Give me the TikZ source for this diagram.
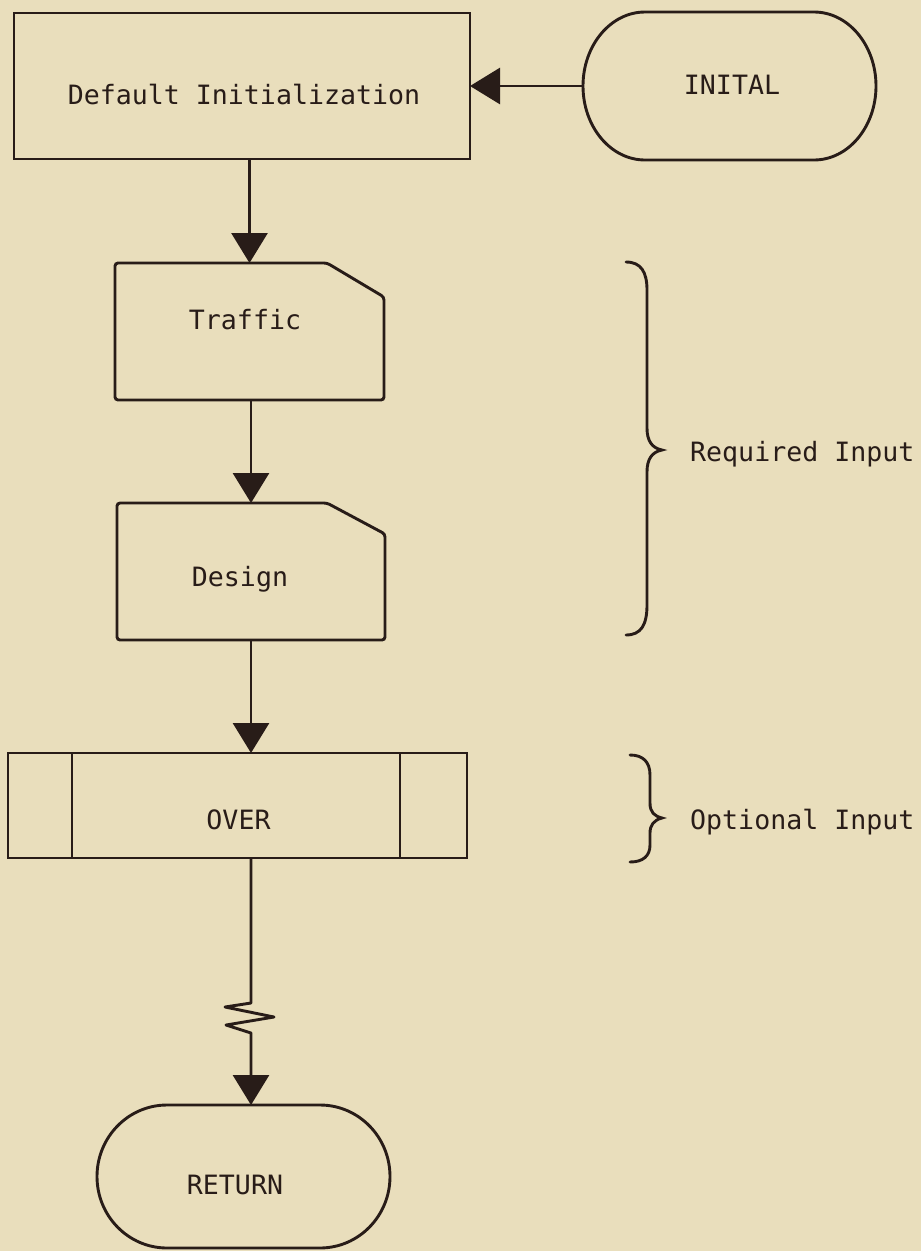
\documentclass[tikz,border=0pt]{standalone}
\usepackage{fontspec}
\setmonofont{DejaVu Sans Mono}
\usetikzlibrary{arrows.meta}
\definecolor{paper}{RGB}{233,222,188}
\definecolor{ink}{RGB}{40,28,24}
\newcommand\tx[3]{\hspace*{#1pt}\raisebox{#2pt}[0pt][0pt]{#3}}
\begin{document}
\begin{tikzpicture}[x=1pt,y=1pt,
  line/.style={draw=ink,line width=2.9pt},
  arr/.style={line,-{Triangle[length=30pt,width=36pt]}},
  txtfont/.style={font=\fontsize{26.6pt}{30pt}\selectfont\ttfamily,text=ink},
  box/.style={line,rectangle,inner sep=0pt,outer sep=0pt,txtfont},
  plain/.style={rectangle,draw=none,inner sep=0pt,outer sep=0pt,txtfont},
  lbl/.style={anchor=base west,inner sep=0pt,txtfont}]

\fill[paper] (0,0) rectangle (921,-1251);
\useasboundingbox (0,0) rectangle (921,-1251);

% Default Initialization
\node[box,minimum width=456pt,minimum height=146pt] (def) at (242,-86) {\tx{4}{-18.75}{Default Initialization}};

% INITAL terminal
\node[plain,minimum width=293pt,minimum height=148pt] (init) at (729.5,-86) {\tx{5}{-8.75}{INITAL}};
\draw[line] ([xshift=62pt]init.north west) -- ([xshift=-62pt]init.north east)
  arc[start angle=90,end angle=-90,x radius=62pt,y radius=74pt]
  -- ([xshift=62pt]init.south west)
  arc[start angle=270,end angle=90,x radius=62pt,y radius=74pt] -- cycle;

% Traffic card
\node[plain,minimum width=269pt,minimum height=137pt] (traffic) at (249.5,-331.5) {\tx{-9}{1.75}{Traffic}};
\draw[line,rounded corners=3pt] (traffic.west) -- (traffic.north west)
  -- ([xshift=-57pt]traffic.north east) -- ([yshift=-34pt]traffic.north east)
  -- (traffic.south east) -- (traffic.south west) -- cycle;

% Design card
\node[plain,minimum width=268pt,minimum height=137pt] (design) at (251,-571.5) {\tx{-22}{-15.25}{Design}};
\draw[line,rounded corners=3pt] (design.west) -- (design.north west)
  -- ([xshift=-58pt]design.north east) -- ([yshift=-31pt]design.north east)
  -- (design.south east) -- (design.south west) -- cycle;

% OVER predefined process
\node[box,minimum width=459pt,minimum height=105pt] (over) at (237.5,-805.5) {\tx{2}{-24.25}{OVER}};
\draw[line] ([xshift=64pt]over.north west) -- ([xshift=64pt]over.south west);
\draw[line] ([xshift=-67pt]over.north east) -- ([xshift=-67pt]over.south east);

% RETURN terminal
\node[plain,minimum width=293pt,minimum height=143pt] (ret) at (243.5,-1176.5) {\tx{-17}{-18.25}{RETURN}};
\draw[line] ([xshift=70pt]ret.north west) -- ([xshift=-70pt]ret.north east)
  arc[start angle=90,end angle=-90,x radius=70pt,y radius=71.5pt]
  -- ([xshift=70pt]ret.south west)
  arc[start angle=270,end angle=90,x radius=70pt,y radius=71.5pt] -- cycle;

% connectors
\draw[arr] (init.west) -- (def.east);
\draw[arr] (traffic.north |- def.south) -- (traffic.north);
\draw[arr] (design.north |- traffic.south) -- (design.north);
\draw[arr] (design.south) -- (design.south |- over.north);
\draw[arr,line join=round] (design.south |- over.south) -- ++(0,-145) -- ++(-26,-4)
  -- ++(49,-10) -- ++(-48,-8) -- ++(25,-8) -- (ret.north -| design.south);

% braces
\draw[line,line cap=round] (626,-262) .. controls (641,-262) and (647,-272) .. (647,-290)
  -- (647,-428) .. controls (647,-441) and (652,-448) .. (662,-450)
  .. controls (652,-452) and (647,-459) .. (647,-472)
  -- (647,-605) .. controls (647,-625) and (641,-635) .. (626,-635);
\draw[line,line cap=round] (630,-755) .. controls (643,-755) and (650,-762) .. (650,-775)
  -- (650,-803) .. controls (650,-812) and (654,-816) .. (662,-818)
  .. controls (654,-820) and (650,-825) .. (650,-833)
  -- (650,-845) .. controls (650,-856) and (643,-862) .. (630,-862);

% labels
\node[lbl] (req) at (690,-461.75) {Required Input};
\node[lbl] (opt) at (690,-829.75) {Optional Input};
\end{tikzpicture}
\end{document}
